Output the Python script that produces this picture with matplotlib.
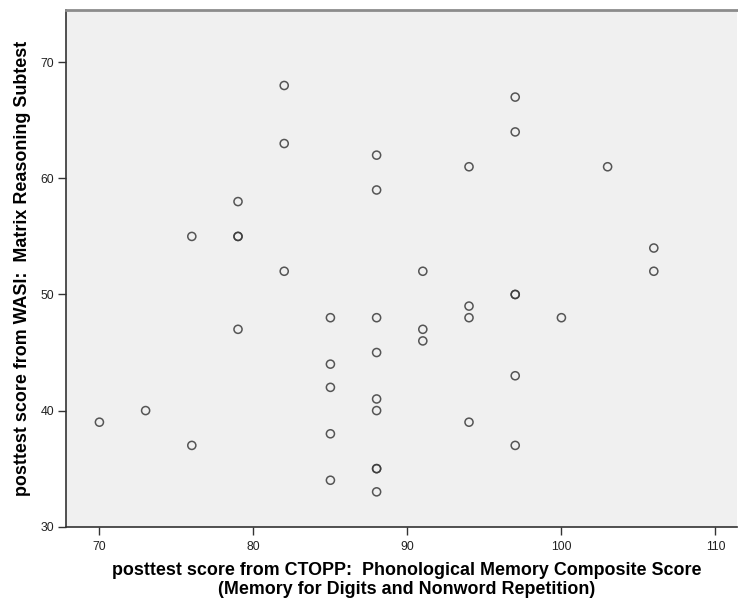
import numpy as np
import matplotlib
matplotlib.use("Agg")
import matplotlib.pyplot as plt

# CTOPP phonological memory composite vs. WASI matrix reasoning (posttest)
ctopp = [70, 73, 76, 76, 79, 79, 79, 79, 82, 82, 82,
         85, 85, 85, 85, 85, 88, 88, 88, 88, 88, 88, 88, 88, 88,
         91, 91, 91, 94, 94, 94, 94, 97, 97, 97, 97, 97, 97,
         100, 103, 106, 106]
wasi = [39, 40, 55, 37, 58, 55, 55, 47, 68, 63, 52,
        48, 44, 42, 38, 34, 62, 59, 48, 45, 41, 40, 35, 35, 33,
        52, 47, 46, 61, 49, 48, 39, 67, 64, 50, 50, 43, 37,
        48, 61, 54, 52]

x_ticks = [70, 80, 90, 100, 110]
y_ticks = [30, 40, 50, 60, 70]

plt.rcParams['font.family'] = ['Liberation Sans', 'DejaVu Sans']

fig = plt.figure(figsize=(7.38, 6.0), dpi=100)
ax = fig.add_axes([0.0888, 0.1222, 0.9098, 0.8611])
ax.set_facecolor('#f0f0f0')

ax.scatter(ctopp, wasi, s=34, facecolors='none', edgecolors='#3a3a3a',
           linewidths=1.1, alpha=0.85, zorder=3)

ax.set_xlim(67.8, 111.4)
ax.set_ylim(30, 74.5)
ax.set_xticks(x_ticks)
ax.set_yticks(y_ticks)

ax.tick_params(axis='both', direction='out', length=6, width=1,
               color='#333333', labelsize=8.8, labelcolor='#222222', pad=2)
ax.tick_params(axis='x', pad=4)

for side in ('left', 'bottom'):
    ax.spines[side].set_color('#333333')
    ax.spines[side].set_linewidth(1.2)
ax.spines['top'].set_color('#8c8c8c')
ax.spines['top'].set_linewidth(2)
ax.spines['right'].set_visible(False)

ax.set_xlabel('posttest score from CTOPP:  Phonological Memory Composite Score\n'
              '(Memory for Digits and Nonword Repetition)',
              fontsize=12.9, fontweight='bold', linespacing=1.15)
ax.xaxis.set_label_coords(0.5086, -0.0675, transform=ax.transAxes)
ax.xaxis.label.set_verticalalignment('top')

ax.set_ylabel('posttest score from WASI:  Matrix Reasoning Subtest',
              fontsize=12.9, fontweight='bold')
ax.yaxis.set_label_coords(-0.0514, 0.5)

fig.savefig('out.png', dpi=100)
plt.close(fig)
